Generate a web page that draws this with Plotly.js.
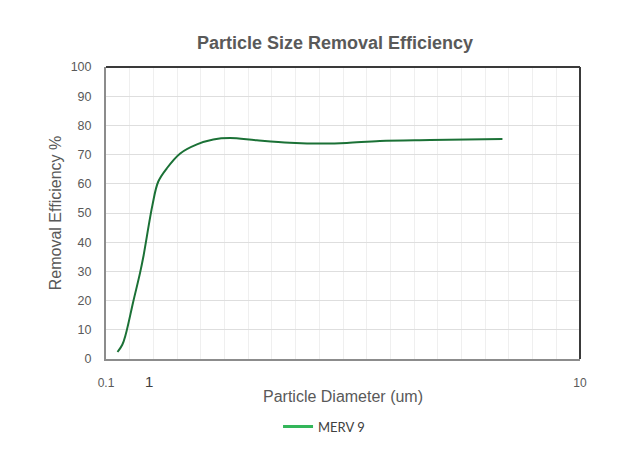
<!DOCTYPE html>
<html>
<head>
<meta charset="utf-8">
<script src="https://cdn.plot.ly/plotly-3.0.1.min.js"></script>
<style>html,body{margin:0;padding:0;background:#fff;}#chart{width:638px;height:456px;}</style>
</head>
<body>
<div id="chart"></div>
<script>
// Data
const seriesName = "MERV 9";
const diameter = [0.34, 0.44, 0.51, 0.67, 0.81, 0.88, 1.07, 1.19, 1.37, 1.65, 2.0, 2.34, 2.69, 3.25, 3.94, 4.64, 5.13, 5.82, 6.87, 8.38];
const efficiency = [2.4, 4.9, 8.3, 19.7, 29.4, 35.0, 52.7, 60.7, 65.3, 70.4, 73.5, 75.2, 75.7, 74.9, 74.1, 73.8, 74.0, 74.7, 75.0, 75.3];
const xTickVals = [0.1, 1, 10];
const xTickText = ["0.1", "<span style=\"font-size:15px;color:#404040\">1</span>", "10"];
const yTickVals = [0, 10, 20, 30, 40, 50, 60, 70, 80, 90, 100];

const curve = {
  x: diameter, y: efficiency, type: 'scatter', mode: 'lines',
  line: {color: '#1b7136', width: 2, shape: 'spline', smoothing: 1},
  showlegend: false, name: seriesName, hoverinfo: 'x+y'
};
const legendEntry = {
  x: [null], y: [null], type: 'scatter', mode: 'lines',
  line: {color: '#33b65a', width: 3}, name: seriesName, showlegend: true
};

const layout = {
  width: 638, height: 456,
  margin: {l: 106, r: 58, t: 67, b: 97},
  paper_bgcolor: '#fff', plot_bgcolor: '#fff',
  font: {family: 'Liberation Sans, Arial, sans-serif', color: '#595959'},
  title: {text: '<b>Particle Size Removal Efficiency</b>', x: 0.525, xanchor: 'center', y: 0.907, yanchor: 'middle',
          font: {size: 18, color: '#595959', family: 'Liberation Sans, Arial, sans-serif'}},
  xaxis: {
    type: 'linear', range: [0.1, 10], tickmode: 'array', tickvals: xTickVals, ticktext: xTickText,
    showgrid: false, zeroline: false, showline: true, linecolor: '#8c8c8c', linewidth: 2,
    ticks: '', tickfont: {size: 12, color: '#595959'}, ticklabelstandoff: 12,
    minor: {tickmode: 'linear', tick0: 0.1, dtick: 0.495, showgrid: true, gridcolor: '#efefef', gridwidth: 1, ticks: ''},
    title: {text: 'Particle Diameter (um)', font: {size: 16, color: '#595959'}, standoff: 1}
  },
  yaxis: {
    range: [0, 100], tickmode: 'array', tickvals: yTickVals, showgrid: true, gridcolor: '#dedede', gridwidth: 1,
    zeroline: false, showline: true, linecolor: '#8c8c8c', linewidth: 2, ticks: '',
    tickfont: {size: 12.5, color: '#595959'}, ticklabelstandoff: 10,
    title: {text: 'Removal Efficiency %', font: {size: 16, color: '#595959'}, standoff: 5}
  },
  legend: {orientation: 'h', x: 0.46, xanchor: 'center', y: -0.18, yanchor: 'top',
           font: {size: 13, color: '#404040', family: 'Lato, Open Sans, sans-serif'}},
  shapes: [
    {type: 'line', xref: 'paper', yref: 'paper', x0: 0, x1: 1, y0: 1, y1: 1, line: {color: '#3a3a3a', width: 2}},
    {type: 'line', xref: 'paper', yref: 'paper', x0: 1, x1: 1, y0: 0, y1: 1, line: {color: '#3a3a3a', width: 2}}
  ]
};

Plotly.newPlot('chart', [curve, legendEntry], layout, {displayModeBar: false, staticPlot: true});
</script>
</body>
</html>
